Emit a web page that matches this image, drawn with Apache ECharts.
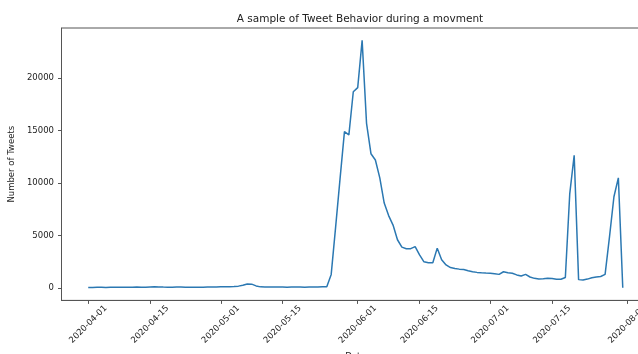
<!DOCTYPE html>
<html>
<head>
<meta charset="utf-8">
<script src="https://cdn.jsdelivr.net/npm/echarts@6/dist/echarts.min.js"></script>
<style>
html,body{margin:0;padding:0;background:#fff;}
#c{width:638px;height:354px;}
</style>
</head>
<body>
<div id="c"></div>
<script>
const titleText = 'A sample of Tweet Behavior during a movment';
const xAxisTitle = 'Date';
const yAxisTitle = 'Number of Tweets';
const startDate = '2020-04-01'; // one value per day from this date
const tweetCounts = [
  60, 55, 70, 65, 60, 75, 80, 70, 65, 70,
  85, 90, 80, 75, 95, 110, 100, 90, 85, 80,
  95, 90, 85, 80, 75, 80, 85, 90, 95, 100,
  110, 120, 130, 140, 180, 260, 380, 370, 200, 110,
  100, 95, 90, 95, 90, 85, 90, 95, 90, 85,
  90, 95, 100, 110, 120, 1300, 5800, 10400, 14900, 14600,
  18700, 19100, 23600, 15700, 12800, 12200, 10500, 8100, 6900, 6000,
  4600, 3900, 3750, 3750, 3950, 3150, 2500, 2400, 2400, 3800,
  2700, 2200, 1950, 1870, 1800, 1760, 1650, 1560, 1490, 1450,
  1420, 1400, 1350, 1300, 1550, 1450, 1400, 1250, 1140, 1300,
  1050, 920, 860, 880, 920, 900, 830, 830, 1000, 9000,
  12650, 800, 760, 850, 980, 1050, 1100, 1300, 4900, 8700,
  10500, 30
];
const xTickLabels = ['2020-04-01','2020-04-15','2020-05-01','2020-05-15','2020-06-01','2020-06-15','2020-07-01','2020-07-15','2020-08-01'];
const yTickValues = [0, 5000, 10000, 15000, 20000];

const DAY = 86400000;
function parseDay(s){ const p = s.split('-').map(Number); return Date.UTC(p[0], p[1]-1, p[2]); }
const t0 = parseDay(startDate);
// x = days since startDate
const seriesData = tweetCounts.map((v, i) => [i, v]);
const xTickDays = xTickLabels.map(s => Math.round((parseDay(s) - t0) / DAY));
const dLast = tweetCounts.length - 1;
const xPad = dLast * 0.05;
const yMaxData = Math.max(...tweetCounts);
const yPad = yMaxData * 0.05;

const chart = echarts.init(document.getElementById('c'), null, {renderer: 'canvas'});
const axisColor = '#555';
const textColor = '#222';
chart.setOption({
  animation: false,
  backgroundColor: '#fff',
  title: {
    text: titleText,
    left: 355,
    textAlign: 'center',
    top: 9,
    textStyle: {fontFamily: 'DejaVu Sans', fontSize: 10.5, fontWeight: 'normal', color: textColor}
  },
  grid: {left: 61.5, top: 28, width: 588, height: 272.4, show: true, borderColor: axisColor, borderWidth: 1, outerBoundsMode: 'none', containLabel: false},
  xAxis: {
    type: 'value',
    min: -xPad,
    max: dLast + xPad,
    name: xAxisTitle,
    nameLocation: 'middle',
    nameGap: 52,
    nameTextStyle: {fontFamily: 'DejaVu Sans', fontSize: 8.5, color: textColor},
    splitLine: {show: false},
    axisLine: {show: true, onZero: false, lineStyle: {color: axisColor, width: 1}},
    axisTick: {show: true, length: 3.5, lineStyle: {color: axisColor}, customValues: xTickDays},
    axisLabel: {
      customValues: xTickDays,
      rotate: 45,
      align: 'center',
      verticalAlign: 'middle',
      margin: 24,
      hideOverlap: false,
      fontFamily: 'DejaVu Sans',
      fontSize: 8.5,
      color: textColor,
      formatter: function (v) {
        const idx = xTickDays.indexOf(Math.round(v));
        return idx >= 0 ? xTickLabels[idx] : '';
      }
    }
  },
  yAxis: {
    type: 'value',
    min: -yPad,
    max: yMaxData + yPad,
    name: yAxisTitle,
    nameLocation: 'middle',
    nameRotate: 90,
    nameGap: 37,
    nameTextStyle: {fontFamily: 'DejaVu Sans', fontSize: 8.5, color: textColor},
    splitLine: {show: false},
    axisLine: {show: true, onZero: false, lineStyle: {color: axisColor, width: 1}},
    axisTick: {show: true, length: 3.5, lineStyle: {color: axisColor}, customValues: yTickValues},
    axisLabel: {
      customValues: yTickValues,
      margin: 7.5,
      fontFamily: 'DejaVu Sans',
      fontSize: 8.5,
      color: textColor,
      formatter: function (v) { return String(v); }
    }
  },
  series: [{
    type: 'line',
    data: seriesData,
    showSymbol: false,
    symbol: 'none',
    lineStyle: {color: '#2b78b2', width: 1.5},
    itemStyle: {color: '#2b78b2'}
  }]
});
</script>
</body>
</html>
